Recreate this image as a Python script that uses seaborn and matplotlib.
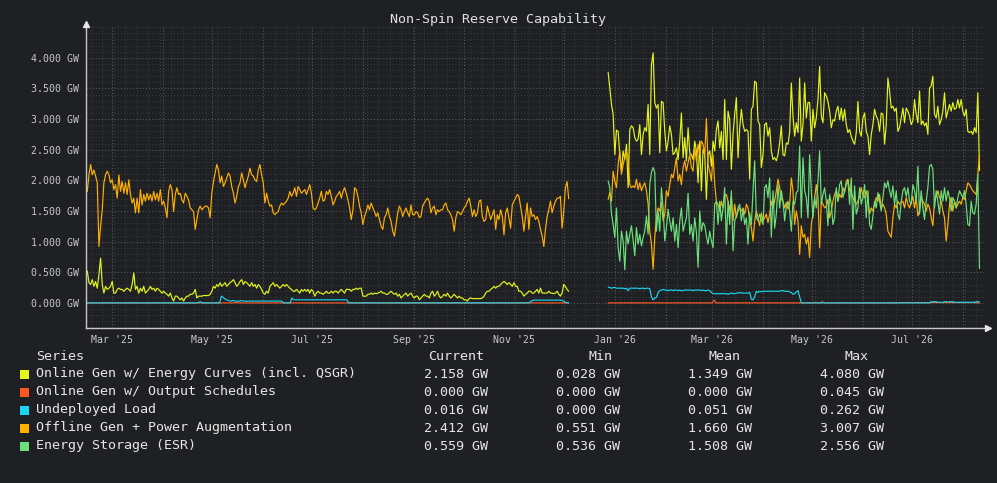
import numpy as np
import pandas as pd
import matplotlib
matplotlib.use("Agg")
import matplotlib.pyplot as plt
import matplotlib.dates as mdates
from matplotlib.ticker import FixedLocator, MultipleLocator, FuncFormatter
from matplotlib.patches import Rectangle
import seaborn as sns

# ---------------- data ----------------
series_names = [
    "Online Gen w/ Energy Curves (incl. QSGR)",
    "Online Gen w/ Output Schedules",
    "Undeployed Load",
    "Offline Gen + Power Augmentation",
    "Energy Storage (ESR)",
]
series_colors = ["#e3f51c", "#ff5722", "#1ad6f0", "#ffb000", "#6ce07a"]

seg1_start, seg1_end = "2025-02-14", "2025-12-04"
seg2_start, seg2_end = "2025-12-28", "2026-08-11"

# segment 1 (GW)
seg1_energy_curves = [
    0.52,0.33,0.30,0.38,0.27,0.35,0.24,0.46,0.73,0.30, 0.16,0.27,0.22,0.24,0.27,0.35,0.16,0.16,0.22,0.24,
    0.22,0.22,0.19,0.22,0.24,0.22,0.19,0.30,0.49,0.22, 0.27,0.16,0.24,0.19,0.27,0.16,0.19,0.22,0.27,0.22,
    0.24,0.19,0.24,0.22,0.19,0.16,0.19,0.16,0.14,0.11, 0.16,0.08,0.03,0.11,0.11,0.08,0.05,0.08,0.03,0.08,
    0.11,0.11,0.14,0.14,0.16,0.22,0.08,0.11,0.11,0.11, 0.12,0.12,0.12,0.12,0.14,0.19,0.27,0.24,0.30,0.27,
    0.33,0.27,0.30,0.33,0.27,0.30,0.33,0.35,0.38,0.33, 0.27,0.30,0.35,0.38,0.30,
    0.35,0.33,0.30,0.27,0.33,0.27,0.30,0.24,0.30,0.27, 0.22,0.16,0.14,0.19,0.16,0.27,0.30,0.33,0.27,0.30,
    0.27,0.24,0.27,0.30,0.27,0.30,0.27,0.24,0.22,0.19, 0.19,0.22,0.19,0.16,0.22,0.19,0.22,0.19,0.22,0.16,
    0.22,0.19,0.11,0.16,0.19,0.16,0.16,0.14,0.16,0.19, 0.16,0.16,0.19,0.16,0.19,0.19,0.16,0.19,0.22,0.19,
    0.16,0.22,0.22,0.22,0.19,0.22,0.22,0.24,0.22,0.24, 0.24,0.11,0.11,0.11,0.14,0.14,0.16,0.14,0.16,0.15,
    0.16,0.17,0.19,0.16,0.16,0.14,0.14,0.17,0.19,0.16, 0.14,0.16,0.11,0.14,0.08,0.11,
    0.14,0.16,0.11,0.14,0.16,0.11,0.08,0.11,0.11,0.05, 0.08,0.11,0.14,0.11,0.11,0.08,0.16,0.19,0.11,0.14,
    0.19,0.11,0.08,0.11,0.14,0.11,0.16,0.11,0.08,0.11, 0.14,0.11,0.08,0.11,0.08,0.08,0.05,0.05,0.03,0.07,
    0.08,0.07,0.07,0.07,0.07,0.07,0.07,0.08,0.11,0.16, 0.19,0.19,0.22,0.24,0.27,0.24,0.27,0.27,0.30,0.33,
    0.35,0.33,0.30,0.33,0.30,0.27,0.33,0.27,0.27,0.19, 0.19,0.16,0.11,0.14,0.16,0.19,0.19,0.16,0.16,0.19,
    0.22,0.16,0.24,0.16,0.16,0.16,0.16,0.19,0.16,0.16, 0.15,0.16,0.19,0.14,0.11,0.16,0.30,0.27,0.22,0.19,
]
seg1_output_schedules = [
    0,0,0,0,0,0,0,0,0,0, 0,0,0,0,0,0,0,0,0,0, 0,0,0,0,0,0,0,0,0,0,
    0,0,0,0,0,0,0,0,0,0, 0,0,0,0,0,0,0,0,0,0, 0,0,0,0,0,0,0,0,0,0,
    0,0,0,0,0,0,0,0,0,0, 0,0,0,0,0,0,0,0,0,0, 0,0,0,0,0,0,0,0,0,0,
    0,0,0,0.01,0,0,0,0,0,0, 0,0,0,0,0,0,0,0,0,0, 0,0,0,0,0,0,0,0,0,0,
    0,0,0,0,0,0,0,0,0,0, 0,0,0,0,0,0,0,0,0,0, 0,0,0,0,0,0,0,0,0,0,
    0,0,0,0,0,0,0,0,0,0, 0,0,0,0,0,0,0,0,0,0, 0,0,0,0,0,0,0,0,0,0,
    0,0,0,0,0,0,0,0,0,0, 0,0,0,0,0,0,0,0,0,0, 0,0,0,0,0,0,0,0,0,0,
    0,0,0,0,0,0,0,0,0,0, 0,0,0,0,0,0,0,0,0,0, 0,0,0,0,0,0,0,0,0,0,
    0,0,0,0,0,0,0,0,0,0, 0,0,0,0,0,0,0,0,0,0, 0,0,0,0,0,0,0,0,0,0,
    0,0,0,0,0,0,0,0,0,0, 0,0,0,0,0,0,0,0,0,0, 0,0,0,0,0,0,0,0,0,0,
    0,
]
seg1_undeployed_load = [
    0,0,0,0,0,0,0,0,0,0, 0,0,0,0,0,0,0,0,0,0, 0,0,0,0,0,0,0,0,0,0,
    0,0,0,0,0,0,0,0,0,0, 0,0,0,0,0,0,0,0,0,0, 0,0,0,0,0,0,0,0,0,0,
    0,0,0,0,0,0.015,0.015,0,0,0, 0,0,0,0,0,0,0,0,0.11,0.09, 0.065,0.05,0.04,0.03,0.03,0.04,0.03,0.025,0.03,0.03,
    0.035,0.03,0.03,0.025,0.03,
    0.03,0.03,0.03,0.03,0.03,0.03,0.03,0.03,0.03,0.03, 0.03,0.03,0.03,0.03,0.03,0.03,0.03,0.03,0.03,0,
    0,0,0,0,0.08,0.05,0.05,0.05,0.05,0.05, 0.05,0.05,0.05,0.05,0.05,0.05,0.05,0.05,0.05,0.05,
    0.05,0.05,0.05,0.05,0.05,0.05,0.05,0.05,0.05,0.05, 0.05,0.05,0.05,0.05,0.05,0.05,0.05,0,0,0,
    0,0,0,0,0,0,0,0,0,0, 0,0,0,0,0,0,0,0,0,0, 0,0,0,0,0,0,
    0,0,0,0,0,0,0,0,0,0, 0,0,0,0,0,0,0,0,0,0, 0,0,0,0,0,0,0,0,0,0,
    0,0,0,0,0,0,0,0,0,0, 0,0,0,0,0,0,0,0,0,0, 0,0,0,0,0,0,0,0,0,0,
    0,0,0,0,0,0,0,0,0,0, 0,0,0,0,0,0,0,0.025,0.04,0.045,
    0.045,0.045,0.045,0.045,0.045,0.045,0.045,0.045,0.045,0.045, 0.045,0.045,0.045,0.045,0.045,0.04,0.03,0.01,0,0,
]
seg1_offline_gen = [
    1.82,2.09,2.26,2.09,2.17,2.07,1.96,0.92,1.25,1.52, 1.96,2.09,2.15,2.09,1.96,2.01,1.85,1.93,1.71,2.09,
    1.82,1.98,1.79,1.96,1.77,2.01,1.77,1.63,1.71,1.47, 1.71,1.47,1.85,1.60,1.77,1.66,1.79,1.68,1.77,1.66,
    1.82,1.68,1.79,1.66,1.85,1.60,1.66,1.55,1.39,1.82, 1.93,1.85,1.49,1.77,1.88,1.77,1.79,1.68,1.63,1.79,
    1.74,1.68,1.55,1.52,1.49,1.20,1.36,1.52,1.58,1.52, 1.55,1.58,1.58,1.55,1.39,1.79,1.98,2.12,2.26,2.17,
    1.96,2.07,1.90,1.96,2.04,2.12,2.07,1.90,1.79,1.63, 1.74,1.90,1.96,2.12,2.01,
    1.88,1.98,2.07,2.20,2.09,2.07,2.01,1.98,2.17,2.26, 2.09,1.96,1.63,1.79,1.66,1.58,1.60,1.47,1.44,1.47,
    1.49,1.58,1.63,1.60,1.63,1.66,1.71,1.82,1.74,1.79, 1.88,1.74,1.90,1.85,1.79,1.82,1.85,1.77,1.85,1.93,
    1.79,1.55,1.52,1.55,1.63,1.71,1.82,1.66,1.68,1.82, 1.77,1.85,1.74,1.60,1.66,1.74,1.77,1.82,1.71,1.82,
    1.88,1.79,1.68,1.55,1.36,1.52,1.88,1.85,1.74,1.58, 1.47,1.28,1.41,1.49,1.60,1.52,1.63,1.55,1.49,1.41,
    1.47,1.36,1.25,1.20,1.39,1.44,1.55,1.41,1.33,1.17, 1.09,1.28,1.47,1.58,1.52,1.41,
    1.49,1.55,1.47,1.41,1.60,1.44,1.44,1.49,1.47,1.39, 1.41,1.58,1.63,1.68,1.71,1.66,1.47,1.55,1.58,1.44,
    1.52,1.49,1.52,1.52,1.60,1.63,1.52,1.49,1.44,1.36, 1.17,1.39,1.49,1.47,1.44,1.49,1.55,1.58,1.66,1.71,
    1.58,1.41,1.52,1.41,1.47,1.66,1.68,1.41,1.33,1.36, 1.58,1.47,1.36,1.44,1.52,1.20,1.44,1.36,1.52,1.41,
    1.11,1.47,1.55,1.39,1.22,1.60,1.66,1.71,1.77,1.74, 1.58,1.41,1.17,1.41,1.63,1.20,1.55,1.41,1.44,1.36,
    1.41,1.33,1.20,1.09,0.92,1.20,1.41,1.52,1.66,1.47, 1.58,1.66,1.71,1.71,1.74,1.22,1.49,1.88,1.98,1.70,
]

# segment 2 (GW)
seg2_energy_curves = [
    3.76,3.51,3.24,3.08,2.42,2.82,2.80,2.42,2.15,2.48, 2.34,2.59,1.88,2.83,2.89,2.86,2.70,2.64,2.67,2.91,
    2.42,2.75,2.86,2.80,3.24,2.42,3.89,4.08,3.27,3.18, 3.24,2.45,3.29,3.27,2.80,2.48,2.64,2.89,2.75,2.42,
    2.45,2.53,2.34,2.64,3.10,2.37,2.70,2.32,2.86,2.45, 2.42,2.34,2.64,2.48,1.96,2.64,1.83,2.51,2.42,1.69,
    2.42,2.48,2.23,2.64,2.48,2.83,2.97,2.53,2.80,2.34,
    3.32,2.34,3.13,2.99,2.18,2.75,3.08,3.35,2.37,2.86, 3.16,2.91,2.80,2.83,2.80,2.02,3.16,3.21,3.62,3.59,
    2.97,2.91,2.21,2.42,2.91,2.94,2.72,2.86,2.48,2.34, 2.37,2.32,2.42,2.61,2.89,2.42,2.40,2.61,2.59,2.78,
    3.59,3.05,2.72,2.94,2.78,3.67,2.64,2.91,3.59,3.02, 3.27,3.27,2.64,3.16,2.86,3.02,3.32,3.86,3.05,2.94,
    3.43,3.38,3.29,3.13,2.86,2.99,2.97,3.13,3.21,2.99, 3.18,2.97,3.16,2.91,2.78,2.83,2.72,2.64,
    2.59,2.78,3.29,2.80,2.72,3.02,3.10,2.80,2.72,2.42, 2.75,2.91,3.16,3.05,2.99,2.80,3.10,3.08,2.59,2.91,
    3.67,3.46,3.18,3.21,3.13,3.18,2.80,2.86,3.02,3.18, 2.94,3.18,3.13,3.05,2.91,2.97,3.32,3.08,2.94,3.46,
    2.91,2.97,2.89,2.94,2.75,3.51,3.54,3.70,3.08,3.02, 3.21,2.91,2.99,3.13,3.43,3.02,3.13,3.24,3.13,3.27,
    3.16,3.18,3.32,3.18,3.32,3.13,3.05,3.16,2.80,2.78, 2.80,2.75,2.86,2.78,3.43,2.16,
]
seg2_output_schedules = [
    0,0,0,0,0,0,0,0,0,0, 0,0,0,0,0,0,0,0,0,0, 0,0,0,0,0,0,0,0,0,0,
    0,0,0,0,0,0,0,0,0,0, 0,0,0,0,0,0,0,0,0,0, 0,0,0,0,0,0,0,0,0.045,0,
    0,0,0,0,0,0,0,0,0,0, 0,0,0,0,0,0,0,0,0,0, 0,0,0,0,0,0,0,0,0,0,
    0,0,0,0,0,0,0,0,0,0, 0,0,0,0,0,0,0,0,0,0, 0,0,0,0.01,0,0,0,0.02,0,0,
    0,0,0,0,0,0,0,0,0,0, 0,0,0,0,0,0,0,0,0,0, 0,0,0,0,0,0,0,0,0,0,
    0,0,0,0,0,0,0,0,0,0.005, 0.005,0.005,0.005,0.005,0.005,0.005,0.005,0.005,0.005,0.005, 0.005,0.005,0.005,0.005,0.005,0.005,0.005,0.005,0.005,0.005,
    0.005,0.005,0.005,0.005,0.005,0.005,0.005,0.005,0.005,0.005, 0.005,0.005,0.005,0.005,0.005,0.005,0.005,0.005,0.005,0.005,
    0.005,0,0,0,
]
seg2_undeployed_load = [
    0.26,0.25,0.24,0.25,0.25,0.24,0.24,0.24,0.24,0.24, 0.23,0.24,0.20,0.24,0.24,0.24,0.24,0.24,0.24,0.23,
    0.24,0.24,0.23,0.24,0.24,0.23,0.10,0.05,0.08,0.09, 0.17,0.20,0.21,0.22,0.21,0.21,0.20,0.21,0.21,0.20,
    0.21,0.21,0.20,0.21,0.20,0.20,0.21,0.21,0.21,0.21, 0.21,0.20,0.21,0.21,0.21,0.21,0.20,0.21,0.20,0.20,
    0.21,0.20,0.17,0.15,0.15,0.15,0.15,0.15,0.15,0.15,
    0.15,0.15,0.14,0.15,0.16,0.15,0.15,0.16,0.16,0.17, 0.16,0.16,0.16,0.16,0.16,0.17,0.06,0.05,0.10,0.19,
    0.17,0.19,0.18,0.19,0.19,0.19,0.19,0.19,0.19,0.19, 0.19,0.19,0.19,0.19,0.20,0.20,0.19,0.19,0.19,0.18,
    0.17,0.14,0.15,0.18,0.20,0.10,0,0,0,0, 0,0,0,0,0,0,0,0,0,0,
    0,0,0,0,0,0,0,0,0,0, 0,0,0,0,0,0,0,0,
    0,0,0,0,0,0,0,0,0,0, 0,0,0,0,0,0,0,0,0,0, 0,0,0,0,0,0,0,0,0,0,
    0,0,0,0,0,0,0,0,0,0, 0,0,0,0,0,0,0.02,0.02,0.02,0.02,
    0.01,0.01,0.01,0.01,0.02,0.02,0.01,0.02,0.02,0.02, 0.01,0.01,0.01,0.01,0.01,0.01,0.01,0.01,0.01,0.01,
    0.01,0.01,0.01,0.02,0.02,0.016,
]
seg2_offline_gen = [
    1.69,1.80,1.66,2.15,1.99,1.88,2.26,2.48,2.10,2.26, 2.37,2.48,2.37,1.93,1.88,1.91,1.88,2.02,1.85,1.96,
    1.83,1.91,1.96,1.83,1.61,1.17,0.96,0.55,1.07,1.39, 1.55,1.50,1.64,1.34,1.45,1.83,1.74,1.93,2.10,2.04,
    2.21,2.37,1.99,2.10,1.93,2.21,2.32,2.15,2.29,2.42, 2.21,2.15,2.53,2.32,2.59,2.42,2.64,2.59,2.42,3.01,
    2.26,2.15,1.99,2.42,1.93,1.66,1.61,1.50,1.66,1.55,
    1.74,1.77,1.66,1.50,1.74,1.34,1.61,1.39,1.50,1.55, 1.50,1.55,1.45,1.61,1.55,1.34,1.23,1.01,1.34,1.50,
    1.39,1.26,1.47,1.34,1.39,1.45,1.31,1.45,1.66,1.55, 1.66,1.83,2.02,1.88,1.69,1.66,1.55,1.64,1.53,1.61,
    2.04,1.83,1.28,1.50,1.34,0.79,1.26,1.07,1.12,0.96, 1.07,0.74,1.28,1.45,1.72,1.93,1.72,0.90,1.66,1.61,
    1.55,1.58,1.69,1.39,1.50,1.66,1.77,1.83,1.66,1.77, 1.72,1.88,1.80,1.99,2.02,1.83,1.80,1.72,
    1.66,1.61,1.66,1.74,1.88,1.74,1.72,1.83,1.66,1.45, 1.55,1.50,1.61,1.72,1.66,1.77,1.55,1.61,1.55,1.45,
    1.17,1.12,1.07,1.39,1.61,1.55,1.66,1.61,1.64,1.66, 1.55,1.72,1.61,1.55,1.64,1.74,1.55,1.72,1.42,1.50,
    1.72,1.66,1.61,1.50,1.61,1.55,1.39,1.26,1.66,1.74, 1.83,1.72,1.66,1.50,1.39,1.01,1.28,1.61,1.72,1.50,
    1.66,1.55,1.61,1.66,1.61,1.72,1.69,1.83,1.96,1.93, 1.88,1.83,1.80,1.77,2.10,2.41,
]
seg2_energy_storage = [
    1.99,1.88,1.45,1.28,1.07,1.55,0.90,0.68,1.17,1.01, 0.54,1.17,0.96,1.12,1.26,1.01,0.77,1.23,0.96,1.12,
    0.93,1.07,1.17,1.42,1.12,1.93,2.13,2.21,2.13,1.17, 1.50,1.17,1.88,1.55,1.01,1.23,1.53,1.34,1.17,1.39,
    1.01,1.28,0.90,1.34,1.55,1.17,1.28,1.39,1.79,1.12, 1.28,1.01,1.39,1.15,0.58,1.50,1.17,1.31,1.26,1.09,
    0.96,1.17,1.01,0.90,1.61,1.66,1.28,1.66,1.34,1.55,
    1.88,0.96,1.66,1.28,1.83,0.85,1.34,1.42,1.55,1.61, 1.34,1.53,1.28,1.39,0.96,1.47,1.28,1.83,2.32,1.39,
    1.34,1.45,1.36,1.28,1.88,1.93,1.72,2.04,1.07,1.83, 1.22,1.45,1.93,1.55,1.83,1.66,1.34,1.58,1.66,1.50,
    1.17,1.66,1.61,1.80,1.83,2.56,1.39,2.37,1.83,1.72, 1.39,2.42,1.83,1.39,1.72,1.55,1.99,2.48,1.61,1.77,
    1.88,1.66,1.26,1.77,1.61,1.28,1.39,1.88,1.66,1.93, 1.99,1.72,1.83,1.93,1.99,1.61,2.04,1.20,
    1.91,1.45,1.55,1.88,1.61,1.72,1.93,1.39,1.83,1.28, 1.20,1.42,1.66,1.55,1.80,1.66,1.50,1.72,1.96,1.88,
    1.99,1.83,1.72,1.91,1.61,1.83,1.45,1.36,1.66,1.83, 1.88,1.74,1.88,1.66,1.61,1.93,1.83,1.66,2.23,1.45,
    1.83,1.55,1.36,1.66,1.88,2.23,2.26,2.18,1.55,1.83, 1.66,1.45,1.83,1.66,1.88,1.66,1.83,1.72,1.50,1.72,
    1.66,1.55,1.72,1.83,1.77,1.72,1.83,1.61,1.28,1.26, 1.66,1.47,1.45,1.61,2.10,0.56,
]

# legend table text
legend_headers = ["Series", "Current", "Min", "Mean", "Max"]
legend_current = ["2.158 GW", "0.000 GW", "0.016 GW", "2.412 GW", "0.559 GW"]
legend_min = ["0.028 GW", "0.000 GW", "0.000 GW", "0.551 GW", "0.536 GW"]
legend_mean = ["1.349 GW", "0.000 GW", "0.051 GW", "1.660 GW", "1.508 GW"]
legend_max = ["4.080 GW", "0.045 GW", "0.262 GW", "3.007 GW", "2.556 GW"]

title = "Non-Spin Reserve Capability"
y_ticks = [0.0, 0.5, 1.0, 1.5, 2.0, 2.5, 3.0, 3.5, 4.0]

# ---------------- build long table ----------------
seg_data = {
    "seg1": (seg1_start, seg1_end, [seg1_energy_curves, seg1_output_schedules, seg1_undeployed_load,
                                    seg1_offline_gen, None]),
    "seg2": (seg2_start, seg2_end, [seg2_energy_curves, seg2_output_schedules, seg2_undeployed_load,
                                    seg2_offline_gen, seg2_energy_storage]),
}
frames = []
for seg, (s, e, lists) in seg_data.items():
    for name, vals in zip(series_names, lists):
        if vals is None:
            continue
        dates = pd.date_range(s, e, periods=len(vals))
        frames.append(pd.DataFrame({"date": dates, "value": vals, "series": name, "segment": seg}))
df = pd.concat(frames, ignore_index=True)

# ---------------- style ----------------
BG = "#1f2023"
sns.set_theme(style="dark")
plt.rcParams["font.family"] = ["DejaVu Sans Mono", "DejaVu Sans"]
plt.rcParams["axes.facecolor"] = BG
plt.rcParams["figure.facecolor"] = BG

W, H = 997, 483
fig = plt.figure(figsize=(W / 100, H / 100), dpi=100)
fig.patch.set_facecolor(BG)

def fx(x):
    return x / W

def fy(y):
    return 1 - y / H

ax = fig.add_axes([fx(86), fy(328), fx(984) - fx(86), fy(26) - fy(328)])
ax.set_facecolor(BG)

sns.lineplot(data=df, x="date", y="value", hue="series", hue_order=series_names,
             palette=dict(zip(series_names, series_colors)), units="segment",
             estimator=None, legend=False, linewidth=0.85, ax=ax)

ax.set_xlim(pd.Timestamp("2025-02-13 05:00"), pd.Timestamp("2026-08-13 18:00"))
ax.set_ylim(-0.41, 4.52)
ax.set_xlabel("")
ax.set_ylabel("")

# grid
ax.xaxis.set_major_locator(mdates.MonthLocator())
ax.xaxis.set_minor_locator(mdates.WeekdayLocator(byweekday=mdates.SU))

def month_fmt(v, pos):
    d = mdates.num2date(v)
    return d.strftime("%b '%y") if d.month % 2 == 1 else ""

ax.xaxis.set_major_formatter(FuncFormatter(month_fmt))
ax.yaxis.set_major_locator(FixedLocator(y_ticks))
ax.yaxis.set_minor_locator(MultipleLocator(0.1))
ax.yaxis.set_major_formatter(FuncFormatter(lambda v, p: f"{v:.3f} GW"))

ax.set_axisbelow(True)
ax.grid(which="major", color="#5b5c60", linestyle=(0, (1, 2)), linewidth=0.75)
ax.grid(which="minor", color="#38393d", linestyle=(0, (1, 2)), linewidth=0.75)

ax.tick_params(axis="x", which="major", length=3, width=0.8, color="#c8c8c8",
               labelsize=7.1, labelcolor="#c8c8c8", pad=2)
ax.tick_params(axis="y", which="major", length=3, width=0.8, color="#c8c8c8",
               labelsize=7.1, labelcolor="#c8c8c8", pad=2)
ax.tick_params(which="minor", length=0)
for lab in ax.get_xticklabels() + ax.get_yticklabels():
    lab.set_family("DejaVu Sans Mono")

for side in ["top", "right"]:
    ax.spines[side].set_visible(False)
for side in ["left", "bottom"]:
    ax.spines[side].set_color("#c8c8c8")
    ax.spines[side].set_linewidth(1.0)

# axis arrows
ax.plot([0], [1.008], marker="^", ms=4.5, color="#e6e6e6", transform=ax.transAxes,
        clip_on=False, zorder=5)
ax.plot([1.004], [0], marker=">", ms=4.5, color="#e6e6e6", transform=ax.transAxes,
        clip_on=False, zorder=5)

# title
fig.text(fx(498), fy(19), title, ha="center", va="center", color="#e0e0e0",
         fontsize=9.6, family="DejaVu Sans Mono")

# legend table
TXT = "#e6e6e6"
FS = 9.6
header_y = 356
fig.text(fx(36), fy(header_y), legend_headers[0], ha="left", va="center", color=TXT, fontsize=FS)
for hdr, cx in zip(legend_headers[1:], [456, 600, 724, 856]):
    fig.text(fx(cx), fy(header_y), hdr, ha="center", va="center", color=TXT, fontsize=FS)

row_ys = [374, 392, 410, 428, 446]
value_cols = [legend_current, legend_min, legend_mean, legend_max]
value_right = [488, 620, 752, 884]
for i, (name, col, ry) in enumerate(zip(series_names, series_colors, row_ys)):
    fig.patches.append(Rectangle((fx(20), fy(ry + 4.5)), fx(9), 9 / H, transform=fig.transFigure,
                                 facecolor=col, edgecolor="none"))
    fig.text(fx(36), fy(ry), name, ha="left", va="center", color=TXT, fontsize=FS)
    for vals, rx in zip(value_cols, value_right):
        fig.text(fx(rx), fy(ry), vals[i], ha="right", va="center", color=TXT, fontsize=FS)

fig.savefig("out.png", dpi=100, facecolor=BG)
